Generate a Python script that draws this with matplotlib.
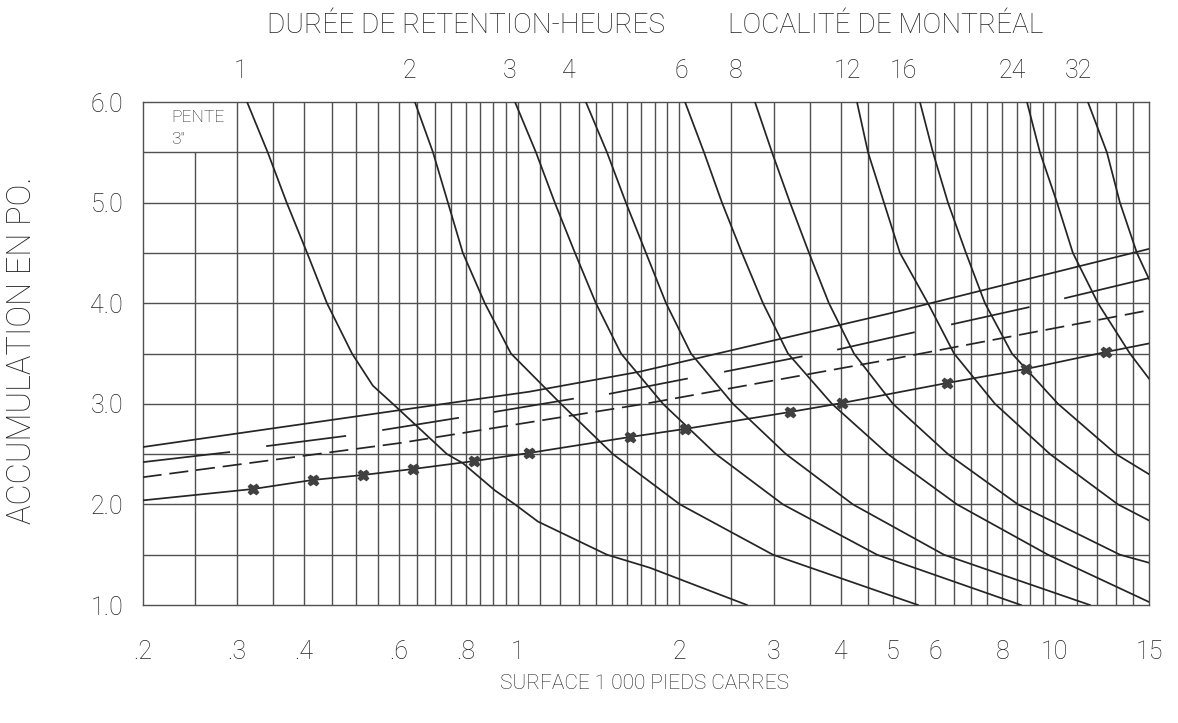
import matplotlib
matplotlib.use("Agg")
import matplotlib.pyplot as plt
import numpy as np

plt.rcParams['font.family'] = ['Roboto', 'DejaVu Sans']
plt.rcParams['font.weight'] = 'light'

# ---------------- data ----------------
levels = [6.0, 5.5, 5.0, 4.5, 4.0, 3.5, 3.0, 2.5, 2.0, 1.5, 1.0]

# retention-duration curves: area (1000 sq ft) where each curve crosses the levels
hours = ["1", "2", "3", "4", "6", "8", "12", "16", "24", "32"]
c1_x = [0.313, 0.342, 0.371, 0.405, 0.441, 0.491, 0.537, 0.585, 0.738, 0.790, 0.906,
        0.988, 1.090, 1.466, 1.763, 2.673]
c1_y = [6.0, 5.5, 5.0, 4.5, 4.0, 3.5, 3.18, 3.0, 2.5, 2.41, 2.14, 2.0, 1.83, 1.5, 1.37, 1.0]
c2_x = [0.643, 0.695, 0.741, 0.790, 0.868, 0.971, 1.203, 1.504, 2.005, 2.988, 5.567]
c2_y = levels
c3_x = [0.988, 1.081, 1.172, 1.278, 1.398, 1.557, 1.864, 2.340, 3.119, 4.669, 8.658]
c3_y = levels
c4_x = [1.339, 1.466, 1.590, 1.733, 1.889, 2.102, 2.517, 3.160, 4.211, 6.222, 11.64]
c4_y = levels
c5_x = [2.049, 2.223, 2.401, 2.616, 2.863, 3.187, 3.848, 4.894, 6.581, 9.722, 15.0]
c5_y = [6.0, 5.5, 5.0, 4.5, 4.0, 3.5, 3.0, 2.5, 2.0, 1.5, 1.03]
c6_x = [2.766, 2.976, 3.215, 3.488, 3.799, 4.230, 5.000, 6.331, 8.548, 13.24, 15.0]
c6_y = [6.0, 5.5, 5.0, 4.5, 4.0, 3.5, 3.0, 2.5, 2.0, 1.5, 1.42]
c7_x = [4.285, 4.493, 4.811, 5.152, 5.810, 6.499, 7.746, 9.809, 13.13, 15.0]
c7_y = [6.0, 5.5, 5.0, 4.5, 4.0, 3.5, 3.0, 2.5, 2.0, 1.84]
c8_x = [5.614, 5.936, 6.331, 6.839, 7.420, 8.330, 10.15, 13.02, 15.0]
c8_y = [6.0, 5.5, 5.0, 4.5, 4.0, 3.5, 3.0, 2.5, 2.30]
c9_x = [8.885, 9.394, 10.11, 10.82, 12.05, 13.82, 15.0]
c9_y = [6.0, 5.5, 5.0, 4.5, 4.0, 3.5, 3.25]
c10_x = [11.54, 12.52, 13.24, 14.24, 15.0]
c10_y = [6.0, 5.5, 5.0, 4.5, 4.24]

# upper solid line
top_x = [0.2, 0.59, 1.05, 1.69, 4.94, 15.0]
top_y = [2.57, 2.93, 3.12, 3.32, 3.90, 4.54]

# broken line (separate strokes): start/end of every stroke
brk_x0 = [0.200, 0.341, 0.561, 0.906, 1.484, 2.432, 3.95, 6.44, 10.46]
brk_x1 = [0.290, 0.477, 0.774, 1.267, 2.066, 3.38, 5.47, 8.95, 15.0]
brk_y0 = [2.42, 2.58, 2.74, 2.92, 3.10, 3.32, 3.54, 3.79, 4.05]
brk_y1 = [2.52, 2.68, 2.86, 3.05, 3.25, 3.47, 3.71, 3.96, 4.25]

# dashed line
dash_x = [0.2, 0.603, 1.725, 5.04, 15.0]
dash_y = [2.27, 2.61, 3.00, 3.45, 3.93]

# line through the x marks (ends at the frame)
mark_x = [0.321, 0.415, 0.514, 0.638, 0.829, 1.049, 1.618, 2.048, 3.22, 4.02, 6.31, 8.85, 12.47]
mark_y = [2.153, 2.243, 2.292, 2.352, 2.431, 2.511, 2.670, 2.750, 2.919, 3.008, 3.207, 3.346, 3.515]
mark_line_x = [0.2] + mark_x + [15.0]
mark_line_y = [2.04] + mark_y + [3.60]

# top axis (hours) label positions and bottom axis ticks
hour_tick_x = [0.304, 0.629, 0.967, 1.245, 2.02, 2.54, 4.12, 5.22, 8.33, 11.06]
area_ticks = [0.2, 0.3, 0.4, 0.6, 0.8, 1, 2, 3, 4, 5, 6, 8, 10, 15]
area_labels = [".2", ".3", ".4", ".6", ".8", "1", "2", "3", "4", "5", "6", "8", "10", "15"]
acc_ticks = [1.0, 2.0, 3.0, 4.0, 5.0, 6.0]
acc_labels = ["1.0", "2.0", "3.0", "4.0", "5.0", "6.0"]

# ---------------- drawing ----------------
GRID = "#505050"
INK = "#252525"
TXT = "#222222"

fig = plt.figure(figsize=(11.78, 7.23), dpi=100)
fig.patch.set_facecolor("white")
ax = fig.add_axes([0.1211, 0.1632, 0.8543, 0.6957])
ax.set_xscale("log")
ax.set_xlim(0.2, 15)
ax.set_ylim(1.0, 6.0)

vgrid = list(np.arange(0.30, 1.0001, 0.05)) + list(np.arange(1.1, 2.0001, 0.1)) + \
        list(np.arange(2.5, 10.0001, 0.5)) + [11, 12, 13, 14]
ax.vlines(vgrid, 1.0, 6.0, color=GRID, lw=1.0, zorder=1)
ax.vlines([0.25], 1.0, 5.5, color=GRID, lw=1.0, zorder=1)
ax.hlines(np.arange(1.5, 5.51, 0.5), 0.2, 15, color=GRID, lw=1.0, zorder=1)

curves = [(c1_x, c1_y), (c2_x, c2_y), (c3_x, c3_y), (c4_x, c4_y), (c5_x, c5_y),
          (c6_x, c6_y), (c7_x, c7_y), (c8_x, c8_y), (c9_x, c9_y), (c10_x, c10_y)]
for cx, cy in curves:
    ax.plot(cx, cy, color=INK, lw=1.25, zorder=3, solid_joinstyle="round")

ax.plot(top_x, top_y, color=INK, lw=1.25, zorder=3)
for xa, xb, ya, yb in zip(brk_x0, brk_x1, brk_y0, brk_y1):
    ax.plot([xa, xb], [ya, yb], color=INK, lw=1.25, zorder=3)
ax.plot(dash_x, dash_y, color=INK, lw=1.25, zorder=3, dashes=(11, 4.5))
ax.plot(mark_line_x, mark_line_y, color=INK, lw=1.25, zorder=3)
ax.plot(mark_x, mark_y, ls="none", marker="X", ms=7.5, color="#404040",
        mec="#404040", zorder=4)

for s in ax.spines.values():
    s.set_color(GRID)
    s.set_linewidth(1.0)

ax.set_xticks(area_ticks)
ax.set_xticklabels(area_labels)
ax.xaxis.set_minor_locator(matplotlib.ticker.NullLocator())
ax.set_yticks(acc_ticks)
ax.set_yticklabels(acc_labels)
ax.tick_params(axis="x", length=0, pad=25, labelsize=18, labelcolor=TXT)
ax.tick_params(axis="y", length=0, pad=14, labelsize=18, labelcolor=TXT)

sec = ax.secondary_xaxis("top")
sec.set_xticks(hour_tick_x)
sec.set_xticklabels(hours)
sec.xaxis.set_minor_locator(matplotlib.ticker.NullLocator())
sec.tick_params(axis="x", length=0, pad=14, labelsize=18, labelcolor=TXT)
sec.spines["top"].set_visible(False)

ax.text(0.028, 0.970, "PENTE", transform=ax.transAxes, fontsize=12.5,
        color=TXT, va="center", ha="left")
ax.text(0.028, 0.926, "3\"", transform=ax.transAxes, fontsize=12.5,
        color=TXT, va="center", ha="left")

fig.text(0.3956, 0.965, "DURÉE DE RETENTION-HEURES", ha="center", va="center",
         fontsize=20.2, color=TXT)
fig.text(0.752, 0.965, "LOCALITÉ DE MONTRÉAL", ha="center", va="center",
         fontsize=20.2, color=TXT)
fig.text(0.5475, 0.0553, "SURFACE 1 000 PIEDS CARRES", ha="center", va="center",
         fontsize=15, color=TXT)
fig.text(0.0187, 0.5159, "ACCUMULATION EN PO.", ha="center", va="center",
         rotation=90, fontsize=23.5, color=TXT)

fig.savefig("out.png", dpi=100, facecolor="white")
